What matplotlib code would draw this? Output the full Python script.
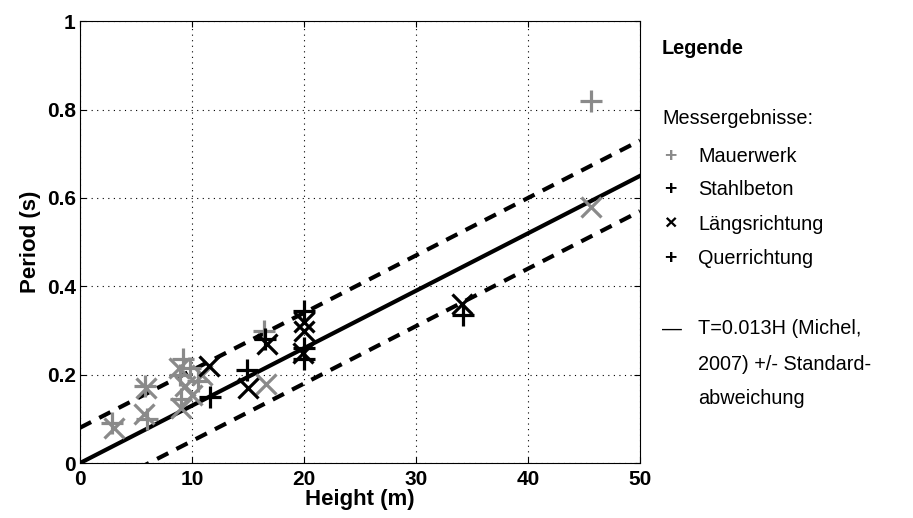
#!/usr/bin/env python3
import numpy as np
import matplotlib
matplotlib.use("Agg")
import matplotlib.pyplot as plt

plt.rcParams['font.family'] = ['Liberation Sans', 'DejaVu Sans']

# Mauerwerk (masonry), grey
mw_quer_h = [2.9, 5.8, 6.0, 8.9, 9.2, 9.0, 9.8, 10.5, 16.4, 45.6]
mw_quer_t = [0.09, 0.175, 0.10, 0.20, 0.235, 0.145, 0.215, 0.185, 0.30, 0.82]
mw_laengs_h = [3.0, 5.9, 5.7, 8.8, 9.4, 9.0, 10.0, 10.9, 16.6, 45.6]
mw_laengs_t = [0.08, 0.17, 0.11, 0.215, 0.175, 0.125, 0.155, 0.20, 0.18, 0.58]

# Stahlbeton (reinforced concrete), black
sb_quer_h = [11.6, 14.9, 16.5, 20.0, 20.0, 20.0, 34.2]
sb_quer_t = [0.15, 0.21, 0.28, 0.345, 0.26, 0.235, 0.335]
sb_laengs_h = [11.5, 15.0, 16.7, 20.0, 20.0, 19.9, 34.1]
sb_laengs_t = [0.22, 0.17, 0.27, 0.32, 0.30, 0.25, 0.36]

# T = 0.013 H (Michel, 2007) +/- standard deviation
slope = 0.013
std = 0.08

grey = '#8a8a8a'


def plot_periods():
    fig = plt.figure(figsize=(9.13, 5.18), dpi=100)
    ax = fig.add_axes([0.0876, 0.106, 0.6134, 0.853])

    h = np.array([0, 50])
    ax.plot(h, slope * h, 'k-', lw=3)
    ax.plot(h, slope * h + std, 'k--', lw=3, dashes=(3, 2.2))
    ax.plot(h, slope * h - std, 'k--', lw=3, dashes=(3, 2.2))

    kw = dict(ls='none', ms=14, mew=2.3)
    ax.plot(mw_laengs_h, mw_laengs_t, 'x', color=grey, **kw)
    ax.plot(mw_quer_h, mw_quer_t, '+', color=grey, ms=16, mew=2.3, ls='none')
    ax.plot(sb_laengs_h, sb_laengs_t, 'x', color='k', **kw)
    ax.plot(sb_quer_h, sb_quer_t, '+', color='k', ms=16, mew=2.3, ls='none')

    ax.set_xlim(0, 50)
    ax.set_ylim(0, 1)
    ax.set_xticks([0, 10, 20, 30, 40, 50])
    ax.set_yticks([0, 0.2, 0.4, 0.6, 0.8, 1])
    ax.set_yticklabels(['0', '0.2', '0.4', '0.6', '0.8', '1'])
    ax.grid(True, ls=(0, (1, 4)), color='k', lw=0.8)
    ax.tick_params(direction='in', top=True, right=True, length=4,
                   labelsize=15, pad=3)
    ax.tick_params(axis='x', pad=5)
    for lab in ax.get_xticklabels() + ax.get_yticklabels():
        lab.set_fontweight('bold')
    for s in ax.spines.values():
        s.set_linewidth(0.8)
    ax.set_xlabel('Height (m)', fontsize=16, fontweight='bold', labelpad=0)
    ax.set_ylabel('Period (s)', fontsize=16, fontweight='bold', labelpad=4)

    # legend written as text beside the axes
    fs = 14.3
    fig.text(662 / 913, 1 - 48 / 518, 'Legende', fontsize=fs,
             fontweight='bold', va='center')
    fig.text(662 / 913, 1 - 118 / 518, 'Messergebnisse:', fontsize=fs,
             va='center')
    entries = [('+', grey, 'bold', 'Mauerwerk'),
               ('+', 'k', 'bold', 'Stahlbeton'),
               ('\u00d7', 'k', 'bold', 'L\u00e4ngsrichtung'),
               ('+', 'k', 'bold', 'Querrichtung')]
    ys = [156, 190, 224, 259]
    for (sym, col, wt, label), y in zip(entries, ys):
        fig.text(670 / 913, 1 - y / 518, sym, fontsize=fs + 1, color=col,
                 fontweight=wt, va='center', ha='center')
        fig.text(698 / 913, 1 - y / 518, label, fontsize=fs, va='center')
    fig.text(662 / 913, 1 - 329 / 518, '\u2014', fontsize=fs, va='center')
    for y, txt in zip([329, 365, 399],
                      ['T=0.013H (Michel,', '2007) +/- Standard-',
                       'abweichung']):
        fig.text(698 / 913, 1 - y / 518, txt, fontsize=fs, va='center')

    fig.savefig('out.png', dpi=100)


if __name__ == '__main__':
    plot_periods()
